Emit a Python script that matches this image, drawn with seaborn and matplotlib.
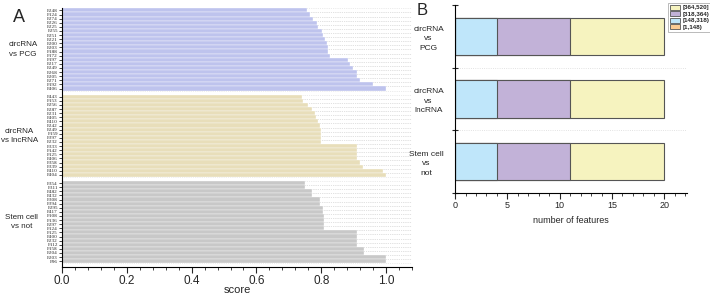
import numpy as np
import pandas as pd
import seaborn as sns
import matplotlib.pyplot as plt
from matplotlib.ticker import AutoMinorLocator, MultipleLocator, FixedLocator
from matplotlib.patches import Patch

sns.set_style("ticks")
plt.rcParams["font.family"] = ["Liberation Sans", "DejaVu Sans"]

# ---- panel A data: feature importance scores per comparison ----
pcg_features = ["F248", "F124", "F274", "F226", "F225", "F255", "F251", "F221", "F200", "F203",
                "F188", "F172", "F197", "F217", "F249", "F268", "F205", "F271", "F192", "F406"]
pcg_scores = [0.755, 0.765, 0.776, 0.786, 0.791, 0.801, 0.806, 0.812, 0.817, 0.822,
              0.822, 0.827, 0.884, 0.889, 0.899, 0.910, 0.910, 0.920, 0.961, 1.000]

lnc_features = ["F443", "F153", "F256", "F287", "F231", "F405", "F410", "F242", "F249", "F159",
                "F397", "F232", "F333", "F142", "F125", "F406", "F358", "F339", "F410", "F404"]
lnc_scores = [0.740, 0.745, 0.760, 0.770, 0.780, 0.785, 0.790, 0.795, 0.800, 0.800,
              0.800, 0.800, 0.910, 0.910, 0.910, 0.910, 0.920, 0.930, 0.990, 1.000]

stem_features = ["F354", "F311", "F482", "F432", "F308", "F394", "F295", "F417", "F108", "F136",
                 "F297", "F124", "F125", "F400", "F232", "F112", "F158", "F204", "F203", "F96"]
stem_scores = [0.749, 0.749, 0.772, 0.772, 0.797, 0.797, 0.806, 0.806, 0.809, 0.809,
               0.809, 0.809, 0.909, 0.909, 0.909, 0.909, 0.932, 0.932, 1.000, 1.000]

group_names = ["circRNA\nvs PCG", "circRNA\nvs lncRNA", "Stem cell\nvs not"]
group_colors = ["#B6BDF5", "#F0E3B2", "#C8C8C8"]

# ---- panel B data: number of features per length bin ----
comparisons = ["circRNA\nvs\nPCG", "circRNA\nvs\nlncRNA", "Stem cell\nvs\nnot"]
bins = ["[1,148)", "[148,318)", "[318,364)", "[364,520]"]
bin_counts = {
    "[1,148)": [0, 0, 0],
    "[148,318)": [4, 4, 4],
    "[318,364)": [7, 7, 7],
    "[364,520]": [9, 9, 9],
}
bin_colors = {"[1,148)": "#FBCB94", "[148,318)": "#BFE6FA",
              "[318,364)": "#C2B2D8", "[364,520]": "#F6F3BF"}

# build the long table for panel A (one spacer row between groups)
rows = []
tick_pos, tick_lab, group_centers = [], [], []
pos = 0
for name, feats, scores in zip(group_names,
                               [pcg_features, lnc_features, stem_features],
                               [pcg_scores, lnc_scores, stem_scores]):
    start = pos
    for f, s in zip(feats, scores):
        rows.append({"pos": pos, "score": s, "group": name})
        tick_pos.append(pos)
        tick_lab.append(f)
        pos += 1
    group_centers.append((start + pos - 1) / 2)
    pos += 1
df_a = pd.DataFrame(rows)

fig = plt.figure(figsize=(7.1, 2.95), dpi=100)

# ---------------- panel A ----------------
ax = fig.add_axes([0.0873, 0.095, 0.493, 0.878])
for p in tick_pos:
    ax.hlines([p - 0.5, p + 0.5], 0, 1.08, colors="#d9d9d9", linestyles=":", lw=0.5, zorder=0)
sns.barplot(data=df_a, x="score", y="pos", hue="group", orient="h", native_scale=True,
            width=1, dodge=False, palette=group_colors, legend=False,
            edgecolor="white", linewidth=0.25, ax=ax, zorder=2)
ax.set_xlim(0, 1.08)
ax.set_ylim(pos - 0.6, -0.6)
ax.set_yticks(tick_pos)
ax.set_yticklabels(tick_lab, fontsize=3.7, family="Liberation Serif")
ax.tick_params(axis="y", direction="inout", length=4, width=0.6, pad=1)
ax.set_xticks(np.arange(0, 1.01, 0.2))
ax.xaxis.set_minor_locator(AutoMinorLocator(5))
ax.tick_params(axis="x", which="major", length=4, width=0.8, labelsize=8.5, pad=2)
ax.tick_params(axis="x", which="minor", length=2.5, width=0.6)
ax.set_xlabel("score", fontsize=8, labelpad=-2)
ax.set_ylabel("")
sns.despine(ax=ax)
for s in ["left", "bottom"]:
    ax.spines[s].set_linewidth(0.8)
    ax.spines[s].set_color("black")
for c, name in zip(group_centers, group_names):
    ax.text(-0.069, c, name, transform=ax.get_yaxis_transform(), ha="right", va="center",
            fontsize=5.8, multialignment="center", linespacing=1.5)
fig.text(0.018, 0.925, "A", fontsize=13)

# ---------------- panel B ----------------
bx = fig.add_axes([0.641, 0.346, 0.327, 0.637])
ypos = [0.5, 1.5]
bx.hlines(ypos, 0, 22.2, colors="#d9d9d9", linestyles=":", lw=0.6, zorder=0)
cum = np.zeros(len(comparisons))
cums = {}
for b in bins:
    cum = cum + np.array(bin_counts[b])
    cums[b] = cum.copy()
df_b = pd.DataFrame({"comparison": comparisons})
for b in reversed(bins):
    df_b["value"] = cums[b]
    sns.barplot(data=df_b, x="value", y="comparison", orient="h", color=bin_colors[b],
                width=0.6, edgecolor="#555555", linewidth=0.8, ax=bx, zorder=2,
                saturation=1)
bx.set_xlim(0, 22.2)
bx.set_ylim(2.5, -0.5)
bx.set_xticks([0, 5, 10, 15, 20])
bx.xaxis.set_minor_locator(MultipleLocator(1))
bx.tick_params(axis="x", which="major", length=4, width=0.8, labelsize=6.5, pad=2)
bx.tick_params(axis="x", which="minor", length=2.5, width=0.6)
bx.set_xlabel("number of features", fontsize=6.5, labelpad=4)
bx.set_ylabel("")
bx.set_yticks([0, 1, 2])
bx.set_yticklabels(comparisons, fontsize=6, multialignment="center", linespacing=1.5)
bx.tick_params(axis="y", which="major", length=0, pad=8)
bx.yaxis.set_minor_locator(FixedLocator([-0.5, 0.5, 1.5, 2.5]))
bx.tick_params(axis="y", which="minor", direction="inout", length=5, width=0.8)
sns.despine(ax=bx)
for s in ["left", "bottom"]:
    bx.spines[s].set_linewidth(0.8)
    bx.spines[s].set_color("black")
handles = [Patch(facecolor=bin_colors[b], edgecolor="#555555", linewidth=0.6, label=b)
           for b in reversed(bins)]
leg = bx.legend(handles=handles, loc="upper left", bbox_to_anchor=(0.918, 1.01),
                fontsize=4.5, frameon=True, fancybox=False, edgecolor="#888888",
                handlelength=1.7, handleheight=0.9, borderpad=0.25, labelspacing=0.12,
                handletextpad=0.3, borderaxespad=0)
leg.get_frame().set_linewidth(0.5)
for t in leg.get_texts():
    t.set_fontweight("bold")
fig.text(0.587, 0.95, "B", fontsize=12)

fig.savefig("out.png", dpi=100)
